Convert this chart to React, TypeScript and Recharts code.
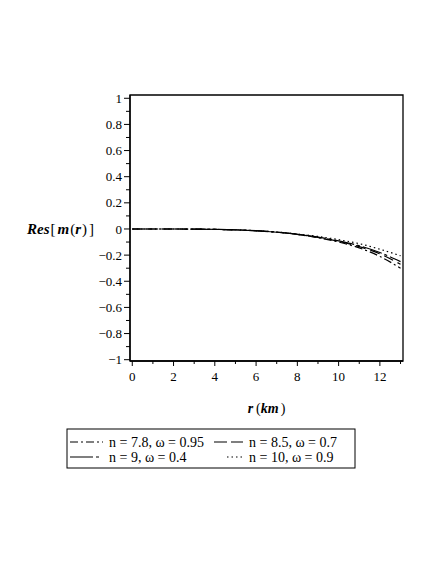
import React from "react";
import { LineChart, Line, XAxis, YAxis, ReferenceArea } from "recharts";

const rValues = [0, 1, 2, 3, 4, 5, 6, 7, 8, 9, 10, 11, 12, 13];
const seriesN78 = [0, 0, 0, -0.001, -0.003, -0.007, -0.014, -0.025, -0.042, -0.067, -0.1, -0.145, -0.21, -0.3];
const seriesN85 = [0, 0, 0, -0.001, -0.003, -0.007, -0.014, -0.025, -0.041, -0.064, -0.095, -0.135, -0.19, -0.27];
const seriesN9 = [0, 0, 0, -0.001, -0.003, -0.007, -0.013, -0.024, -0.04, -0.062, -0.091, -0.128, -0.18, -0.25];
const seriesN10 = [0, 0, 0, -0.001, -0.003, -0.006, -0.013, -0.023, -0.038, -0.057, -0.082, -0.112, -0.155, -0.205];

const xTicks = [0, 1, 2, 3, 4, 5, 6, 7, 8, 9, 10, 11, 12, 13];
const yTicks = [-1, -0.9, -0.8, -0.7, -0.6, -0.5, -0.4, -0.3, -0.2, -0.1, 0, 0.1, 0.2, 0.3, 0.4, 0.5, 0.6, 0.7, 0.8, 0.9, 1];

const legendLabels = ["n = 7.8, ω = 0.95", "n = 8.5, ω = 0.7", "n = 9, ω = 0.4", "n = 10, ω = 0.9"];

const X_DOMAIN: [number, number] = [-0.11, 13.12];
const Y_DOMAIN: [number, number] = [-1.01, 1.025];

const data = rValues.map((r, i) => ({
  r,
  a: seriesN78[i],
  b: seriesN85[i],
  c: seriesN9[i],
  d: seriesN10[i],
}));

const FONT = "'Liberation Serif', 'Times New Roman', serif";

const fmtY = (v: number) => {
  if (Math.abs(v) < 1e-9) return "0";
  const s = String(Math.abs(Math.round(v * 10) / 10));
  return v < 0 ? "\u2212" + s : s;
};

const YTick = (props: any) => {
  const { x, y, payload } = props;
  const v = payload.value;
  const major = Math.round(v * 10) % 2 === 0;
  return (
    <g>
      <line x1={x} x2={x - (major ? 6 : 4)} y1={y} y2={y} stroke="#000" strokeWidth={1} />
      {major && (
        <text x={x - 8} y={y} dy="0.35em" textAnchor="end" fontFamily={FONT} fontSize={13} fill="#000">
          {fmtY(v)}
        </text>
      )}
    </g>
  );
};

const XTick = (props: any) => {
  const { x, y, payload } = props;
  const v = payload.value;
  const major = v % 2 === 0;
  return (
    <g>
      <line x1={x} x2={x} y1={y} y2={y + (major ? 5 : 3)} stroke="#000" strokeWidth={1} />
      {major && (
        <text x={x} y={y + 15} dy="0.35em" textAnchor="middle" fontFamily={FONT} fontSize={13} fill="#000">
          {v}
        </text>
      )}
    </g>
  );
};

const XLabel = (props: any) => {
  const vb = props.viewBox || {};
  const cx = (vb.x || 0) + (vb.width || 0) / 2;
  const cy = (vb.y || 0) + 47;
  return (
    <text x={cx} y={cy} dy="0.35em" textAnchor="middle" fontFamily={FONT} fontSize={14} fill="#000">
      <tspan fontWeight="bold" fontStyle="italic">r</tspan>
      <tspan dx={3}>(</tspan>
      <tspan fontWeight="bold" fontStyle="italic">km</tspan>
      <tspan dx={2}>)</tspan>
    </text>
  );
};

const YLabel = (props: any) => {
  const vb = props.viewBox || {};
  const y0 = (vb.y || 0) + (vb.height || 0) * (Y_DOMAIN[1] / (Y_DOMAIN[1] - Y_DOMAIN[0]));
  return (
    <text x={19} y={y0} dy="0.35em" textAnchor="start" fontFamily={FONT} fontSize={15} fill="#000">
      <tspan fontWeight="bold" fontStyle="italic">Res</tspan>
      <tspan dx={1}>[</tspan>
      <tspan dx={2} fontWeight="bold" fontStyle="italic">m</tspan>
      <tspan dx={1}>(</tspan>
      <tspan fontWeight="bold" fontStyle="italic">r</tspan>
      <tspan dx={1}>)</tspan>
      <tspan dx={2}>]</tspan>
    </text>
  );
};

const dashes = ["8 3 2 3", "10 5", "20 3 3 3", "1.5 3"];

const LegendBox = () => (
  <svg width={290} height={41} style={{ position: "absolute", left: 58, top: 420 }}>
    <rect x={1} y={1} width={288} height={39} fill="#fff" stroke="#000" strokeWidth={1} />
    <line x1={4} x2={37} y1={14} y2={14} stroke="#000" strokeWidth={1.2} strokeDasharray={dashes[0]} />
    <text x={43} y={14} dy="0.35em" fontFamily={FONT} fontSize={14}>{legendLabels[0]}</text>
    <line x1={148} x2={177} y1={14} y2={14} stroke="#000" strokeWidth={1.2} strokeDasharray="13 4" />
    <text x={183} y={14} dy="0.35em" fontFamily={FONT} fontSize={14}>{legendLabels[1]}</text>
    <line x1={4} x2={33} y1={29} y2={29} stroke="#000" strokeWidth={1.2} strokeDasharray="23 3 3 3" />
    <text x={43} y={29} dy="0.35em" fontFamily={FONT} fontSize={14}>{legendLabels[2]}</text>
    <line x1={161} x2={177} y1={29} y2={29} stroke="#000" strokeWidth={1.2} strokeDasharray={dashes[3]} />
    <text x={183} y={29} dy="0.35em" fontFamily={FONT} fontSize={14}>{legendLabels[3]}</text>
  </svg>
);

export default function App() {
  return (
    <div style={{ position: "relative", width: 428, height: 480 }}>
      <LineChart width={428} height={480} data={data} margin={{ top: 87, right: 33, left: 0, bottom: 67 }}>
        <XAxis
          xAxisId="x"
          dataKey="r"
          type="number"
          domain={X_DOMAIN}
          ticks={xTicks}
          interval={0}
          height={60}
          tickSize={0}
          tickMargin={0}
          tickLine={false}
          tick={<XTick />}
          axisLine={{ stroke: "#000", strokeWidth: 1.3 }}
          allowDataOverflow
          label={<XLabel />}
        />
        <YAxis
          yAxisId="y"
          type="number"
          domain={Y_DOMAIN}
          ticks={yTicks}
          interval={0}
          width={122}
          tickSize={0}
          tickMargin={0}
          tickLine={false}
          tick={<YTick />}
          axisLine={{ stroke: "#000", strokeWidth: 1.3 }}
          allowDataOverflow
          label={<YLabel />}
        />
        <ReferenceArea
          xAxisId="x"
          yAxisId="y"
          x1={X_DOMAIN[0]}
          x2={X_DOMAIN[1]}
          y1={Y_DOMAIN[0]}
          y2={Y_DOMAIN[1]}
          fill="none"
          fillOpacity={0}
          stroke="#000"
          strokeWidth={1.3}
          ifOverflow="visible"
        />
        <Line xAxisId="x" yAxisId="y" type="monotone" dataKey="a" stroke="#000" strokeWidth={1.2} strokeDasharray={dashes[0]} dot={false} isAnimationActive={false} />
        <Line xAxisId="x" yAxisId="y" type="monotone" dataKey="b" stroke="#000" strokeWidth={1.2} strokeDasharray={dashes[1]} dot={false} isAnimationActive={false} />
        <Line xAxisId="x" yAxisId="y" type="monotone" dataKey="c" stroke="#000" strokeWidth={1.2} strokeDasharray={dashes[2]} dot={false} isAnimationActive={false} />
        <Line xAxisId="x" yAxisId="y" type="monotone" dataKey="d" stroke="#000" strokeWidth={1.2} strokeDasharray={dashes[3]} dot={false} isAnimationActive={false} />
      </LineChart>
      <LegendBox />
    </div>
  );
}
